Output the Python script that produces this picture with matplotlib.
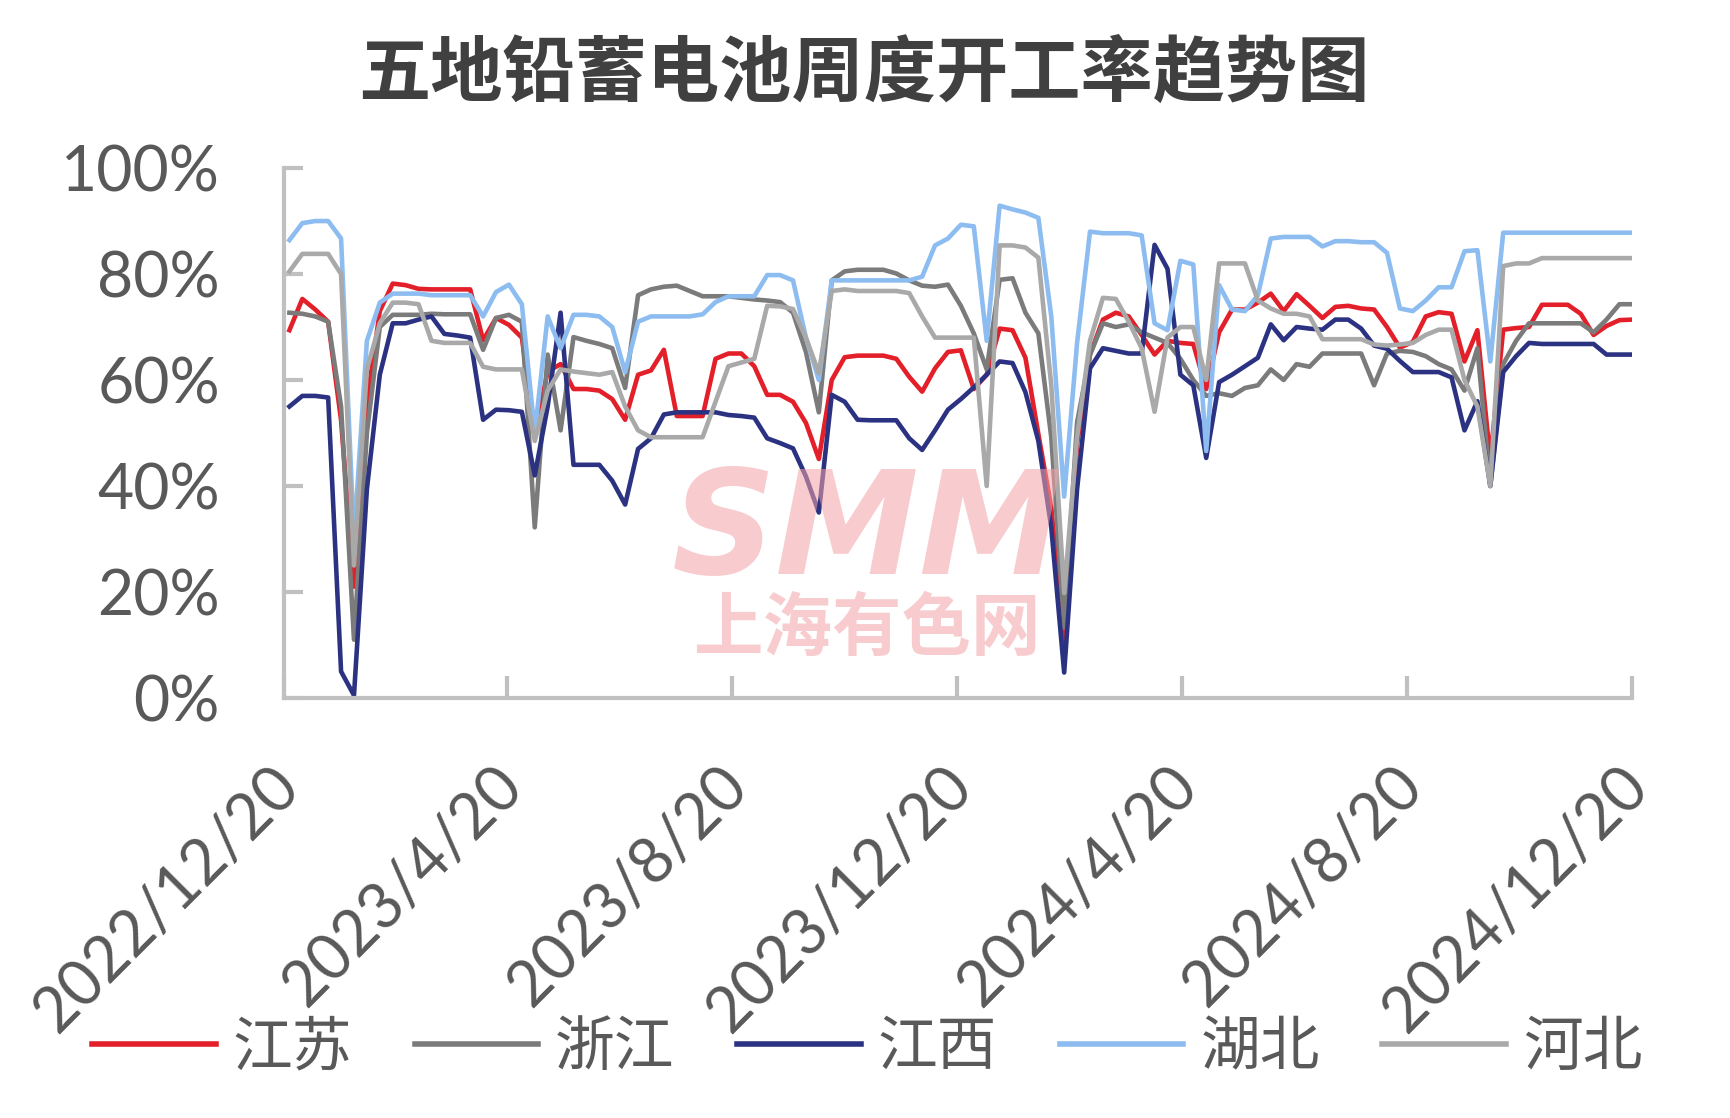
import matplotlib
matplotlib.use('Agg')
import matplotlib.pyplot as plt
import matplotlib.transforms as mtransforms
import pandas as pd

# weekly operating rate (%), first reading on 2022/12/23, one per week
weeks = pd.date_range('2022-12-23', periods=105, freq='7D')

jiangsu = [69.4, 75.3, 73.3, 71, 52.4, 21, 55.7, 73, 78.2, 77.9,
           77.2, 77.1, 77.1, 77.1, 77.1, 67.5, 71.7, 70.4, 68, 50,
           61.6, 63, 58.3, 58.3, 58, 56.4, 52.5, 61, 61.8, 65.7,
           53.2, 53.2, 53.2, 64, 65, 65, 62.6, 57.2, 57.2, 55.9,
           51.9, 45.1, 60, 64.3, 64.6, 64.6, 64.6, 64, 60.6, 57.8,
           62.2, 65.3, 65.6, 58.3, 61, 69.7, 69.4, 64.2, 49.8, 36,
           10, 47.9, 64.8, 71.4, 72.7, 72, 68.5, 64.8, 67.4, 67,
           66.8, 58.3, 69, 73.3, 73.3, 74.6, 76.3, 73, 76.2, 74,
           71.7, 73.8, 74, 73.5, 73.3, 70, 66.1, 67.2, 72, 72.8,
           72.5, 63.5, 69.4, 45, 69.5, 69.8, 70, 74.2, 74.2, 74.2,
           72.5, 68.5, 70.2, 71.3, 71.4]

zhejiang = [72.7, 72.5, 72, 71, 55, 11, 50, 70, 72.3, 72.3,
            72.3, 72.5, 72.4, 72.4, 72.4, 65.7, 71.7, 72.3, 71, 32.2,
            64.8, 50.5, 68.1, 67.4, 66.8, 66, 58.5, 76, 77.1, 77.6,
            77.8, 76.8, 75.8, 75.8, 75.8, 75.5, 75.2, 75, 74.7, 72.7,
            65.3, 53.9, 78.8, 80.5, 80.8, 80.8, 80.8, 80.1, 78.8, 77.8,
            77.6, 78, 74, 68.8, 62, 78.9, 79.2, 72.7, 68.8, 49.2,
            13.3, 52, 64.8, 70.7, 70, 70.5, 69, 68, 67, 64,
            60, 57, 57.5, 57, 58.5, 59, 62, 60, 63, 62.5,
            65, 65, 65, 65, 59, 65, 65.5, 65.3, 64.5, 63,
            62, 58, 66, 40, 63, 67.4, 70.7, 70.7, 70.7, 70.7,
            70.7, 69, 71.4, 74.3, 74.3]

jiangxi = [55, 57, 57, 56.7, 5, 0.5, 39.4, 61, 70.7, 70.7,
           71.4, 72, 68.7, 68.4, 68, 52.5, 54.4, 54.3, 54, 42,
           55, 72.7, 44, 44, 44, 41, 36.5, 47, 49, 53.5,
           53.9, 53.9, 53.9, 53.9, 53.4, 53.2, 52.9, 49, 48.1, 47.1,
           41.8, 35, 57.2, 55.9, 52.5, 52.4, 52.4, 52.4, 49, 46.8,
           50.5, 54.4, 56.4, 58.6, 61, 63.5, 63.2, 57.7, 48.5, 32.2,
           4.8, 39.4, 62.2, 66, 65.5, 65, 65, 85.5, 81, 61,
           59, 45.3, 59.6, 61, 62.6, 64.2, 70.5, 67.5, 70, 69.7,
           69.5, 71.4, 71.4, 69.7, 66.5, 65.9, 63.6, 61.5, 61.5, 61.5,
           60.5, 50.5, 56, 40, 61.5, 64.5, 67, 66.8, 66.8, 66.8,
           66.8, 66.8, 64.8, 64.8, 64.8]

hubei = [86.4, 89.6, 90, 90, 86.7, 30, 67.4, 74.6, 76.3, 76.3,
         76.3, 76, 76, 76, 76, 72, 76.6, 78, 74.3, 50,
         72, 66, 72.3, 72.3, 72, 70, 61.5, 71, 72, 72,
         72, 72, 72.4, 74.7, 75.8, 75.8, 75.8, 79.8, 79.8, 78.8,
         68, 60, 78.8, 78.8, 78.8, 78.8, 78.8, 78.8, 78.8, 79.5,
         85.4, 86.7, 89.3, 89, 67.4, 92.9, 92.2, 91.6, 90.6, 72,
         38, 67, 88, 87.7, 87.7, 87.7, 87.3, 70.7, 69.4, 82.5,
         81.8, 46.6, 77.9, 73.3, 73, 76, 86.7, 87, 87, 87,
         85.2, 86.2, 86.2, 86, 86, 84, 73.5, 73, 75, 77.5,
         77.5, 84.3, 84.5, 63.5, 87.8, 87.8, 87.8, 87.8, 87.8, 87.8,
         87.8, 87.8, 87.8, 87.8, 87.8]

hebei = [80.5, 83.8, 83.8, 83.8, 80, 25, 62, 70.7, 74.6, 74.6,
         74.3, 67.4, 67, 67, 67, 62.5, 62, 62, 62, 48.5,
         58, 62, 61.6, 61.3, 61, 61.5, 55, 50.5, 49.2, 49.2,
         49.2, 49.2, 49.2, 55.9, 62.6, 63.3, 64, 74, 73.9, 73.4,
         68, 61.3, 76.8, 77.1, 76.8, 76.8, 76.8, 76.8, 76.4, 72,
         68, 68, 68, 68, 40, 85.4, 85.4, 85, 83.1, 59,
         19.8, 49.2, 67.4, 75.5, 75.3, 71, 66, 54, 68, 70,
         70, 60, 82, 82, 82, 75, 73.5, 72.5, 72.5, 72,
         67.7, 67.7, 67.7, 67.7, 66.7, 66.5, 66.7, 67, 68.5, 69.5,
         69.5, 60, 55, 40, 81.5, 82, 82, 83, 83, 83,
         83, 83, 83, 83, 83]

names = ['江苏', '浙江', '江西', '湖北', '河北']
colors = ['#e3202a', '#7b7b7b', '#2c3282', '#8dbdf0', '#a9a9a9']
y_ticks = [0, 20, 40, 60, 80, 100]
x_labels = ['2022/12/20', '2023/4/20', '2023/8/20', '2023/12/20',
            '2024/4/20', '2024/8/20', '2024/12/20']

plt.rcParams['font.family'] = ['Lato', 'Noto Sans CJK SC', 'DejaVu Sans']

fig = plt.figure(figsize=(17.31, 11.18), dpi=100)
ax = fig.add_axes([0.164, 0.3757, 0.779, 0.474])

for vals, name, c in zip([jiangsu, zhejiang, jiangxi, hubei, hebei], names, colors):
    ax.plot(weeks, vals, color=c, lw=3.3, label=name, solid_joinstyle='round')

ax.set_xlim(pd.Timestamp('2022-12-20'), pd.Timestamp('2024-12-20'))
ax.set_ylim(0, 100)
ax.set_yticks(y_ticks)
ax.set_yticklabels([f'{v}%' for v in y_ticks])
ax.set_xticks(pd.to_datetime(x_labels, format='%Y/%m/%d'))
ax.set_xticklabels(x_labels, rotation=45, ha='right', va='top', rotation_mode='anchor')

for s in ['top', 'right']:
    ax.spines[s].set_visible(False)
for s in ['left', 'bottom']:
    ax.spines[s].set_color('#c0c0c0')
    ax.spines[s].set_linewidth(3)

ax.tick_params(axis='both', direction='in', color='#c0c0c0', width=3,
               labelcolor='#595959')
ax.tick_params(axis='y', length=14, pad=46, labelsize=45)
ax.tick_params(axis='x', length=16, pad=42, labelsize=45)

# nudge the rotated date labels a little to the left
shift = mtransforms.ScaledTranslation(-0.15, 0, fig.dpi_scale_trans)
for lab in ax.get_xticklabels():
    lab.set_transform(lab.get_transform() + shift)

fig.text(0.499, 0.933, '五地铅蓄电池周度开工率趋势图', fontsize=52, weight='bold',
         family=['Noto Sans CJK SC'], color='#404040', ha='center', va='center')

# SMM watermark
fig.text(0.501, 0.487, 'SMM', fontsize=104, weight='heavy', style='italic',
         family=['DejaVu Sans'], color='#f3a3a6', alpha=0.55, ha='center', va='baseline')
fig.text(0.501, 0.437, '上海有色网', fontsize=50, weight='bold',
         family=['Noto Sans CJK SC'], color='#f3a3a6', alpha=0.55, ha='center', va='center')

leg = fig.legend(loc='center', bbox_to_anchor=(0.501, 0.062), ncol=5, frameon=False,
                 handlelength=2.07, handletextpad=0.28, columnspacing=1.05,
                 prop={'family': ['Noto Sans CJK SC'], 'size': 43})
for t in leg.get_texts():
    t.set_color('#595959')
for h in leg.get_lines():
    h.set_linewidth(4)

fig.savefig('out.png', dpi=100)
